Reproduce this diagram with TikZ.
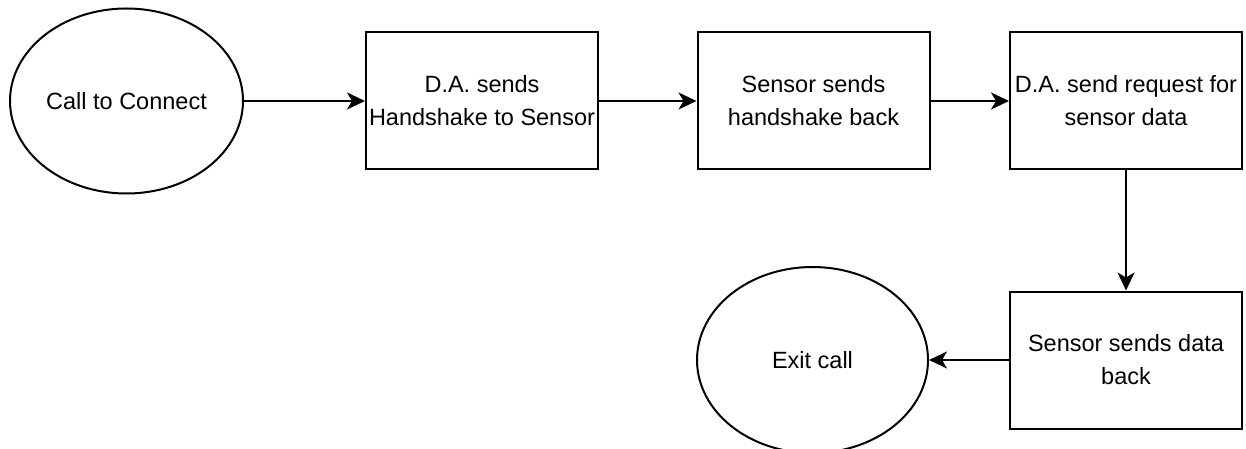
\documentclass[tikz,border=0pt]{standalone}
\usepackage{fontspec}
\setmainfont{Liberation Sans}
\usetikzlibrary{shapes.geometric,arrows.meta}

\begin{document}
\begin{tikzpicture}[x=1pt, y=-1pt,
		every node/.style={font=\fontsize{23.5}{33}\selectfont, align=center, inner sep=0pt},
		oval/.style={draw, ellipse, line width=2pt},
		stepbox/.style={draw, rectangle, line width=2pt, minimum width=232pt, minimum height=137pt},
		flow/.style={-{Stealth[length=18pt, width=17pt, inset=5pt]}, line width=2pt}]
	\useasboundingbox (0,0) rectangle (1246,449);
	\clip (0,0) rectangle (1246,449);
	\node[oval, minimum width=233pt, minimum height=185pt] (call) at (126.5,101) {Call to Connect};
	\node[stepbox] (hs) at (482,101) {D.A. sends\\Handshake to Sensor};
	\node[stepbox] (back) at (813.5,101) {Sensor sends\\handshake back};
	\node[stepbox] (req) at (1126,101) {D.A. send request for\\sensor data};
	\node[stepbox] (data) at (1126,360) {Sensor sends data\\back};
	\node[oval, minimum width=231pt, minimum height=186pt] (exit) at (812.5,360) {Exit call};
	\draw[flow] (call) -- (hs);
	\draw[flow] (hs) -- (back);
	\draw[flow] (back) -- (req);
	\draw[flow] (req) -- (data);
	\draw[flow] (data) -- (exit);
\end{tikzpicture}
\end{document}
